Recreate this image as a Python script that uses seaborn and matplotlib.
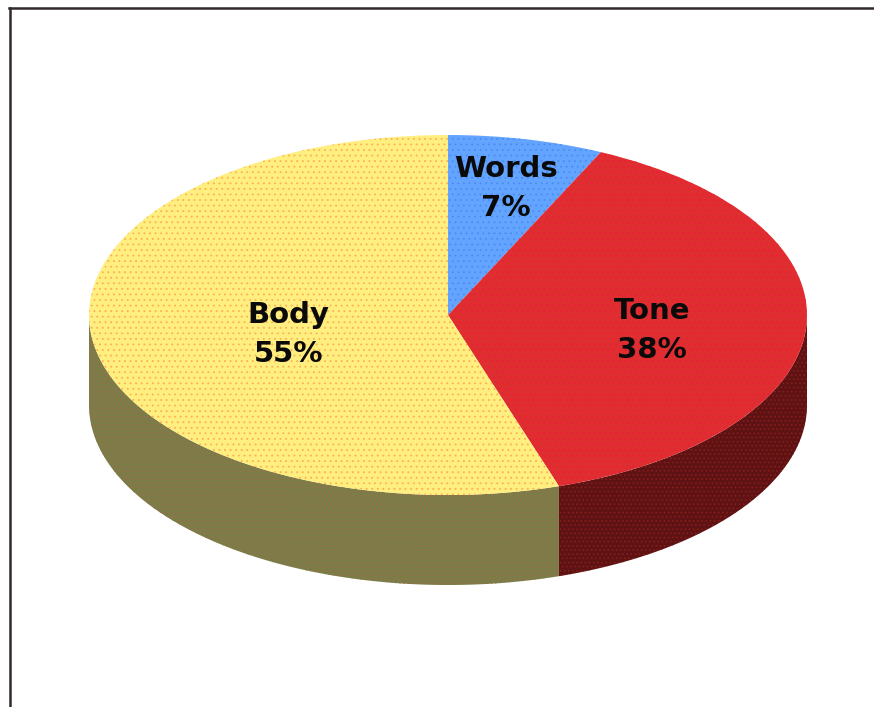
import numpy as np
import matplotlib
matplotlib.use("Agg")
import matplotlib.pyplot as plt
import seaborn as sns

# DATA

labels = ["Words", "Tone", "Body"]
shares = [7, 38, 55]

top_colors = ["#62A4FF", "#DF2E30", "#FFEE80"]
dot_colors = ["#4C8CF0", "#F01C3C", "#FFB050"]
side_colors = ["#30507F", "#5E1214", "#7C7C48"]
side_dots = ["#30507F", "#8A2018", "#9A7048"]

# where each label sits, as a fraction of the radius, plus a small drop
label_radius = [0.74, 0.57, 0.45]
label_drop = [0.017, 0.05, 0.04]

# PIXEL LAYOUT

W, H = 874, 707
cx, cy = 448, 315
rx, ry = 359, 180
depth = 90 / ry
left, top = 9.5, 8

sns.set_theme(style="white")
plt.rcParams["font.family"] = ["DejaVu Sans"]
plt.rcParams["hatch.linewidth"] = 0.6

fig = plt.figure(figsize=(W / 100, H / 100), dpi=100, facecolor="white")
ax = fig.add_axes([left / W, 0, 1 - left / W, 1 - top / H])

# TOP OF THE PIE

wedges, _ = ax.pie(
    shares,
    colors=top_colors,
    startangle=90,
    counterclock=False,
    radius=1,
    frame=True,
    wedgeprops={"linewidth": 0, "zorder": 3},
)

for wedge, dot in zip(wedges, dot_colors):
    wedge.set_hatch("...")
    wedge.set_edgecolor(dot)
    wedge.set_linewidth(0)

# SIDE WALL

edges = np.cumsum([0] + shares) * 3.6

for i in range(len(shares)):
    start = max(edges[i], 90)
    end = min(edges[i + 1], 270)
    if end <= start:
        continue
    t = np.radians(np.linspace(start, end, 200))
    ax.fill_between(
        np.sin(t),
        np.cos(t),
        np.cos(t) - depth,
        facecolor=side_colors[i],
        edgecolor=side_dots[i],
        hatch="....",
        linewidth=0,
        zorder=2,
    )

# LABELS

for i in range(len(shares)):
    mid = np.radians((edges[i] + edges[i + 1]) / 2)
    ax.text(
        label_radius[i] * np.sin(mid),
        label_radius[i] * np.cos(mid) - label_drop[i],
        f"{labels[i]}\n{shares[i]}%",
        ha="center",
        va="center",
        fontsize=21,
        fontweight="bold",
        color="#0A0A0A",
        linespacing=1.5,
        zorder=5,
    )

# pie forces equal aspect, the ellipse comes from unequal axis scales
ax.set_aspect("auto")
ax.set_xlim((left - cx) / rx, (W - cx) / rx)
ax.set_ylim((cy - H) / ry, (cy - top) / ry)
ax.set_xticks([])
ax.set_yticks([])

sns.despine(ax=ax, top=False, left=False, right=True, bottom=True)
for side in ["top", "left"]:
    ax.spines[side].set_color("#33292D")
    ax.spines[side].set_linewidth(1.8)
    ax.spines[side].set_visible(True)

fig.savefig("out.png", dpi=100)
